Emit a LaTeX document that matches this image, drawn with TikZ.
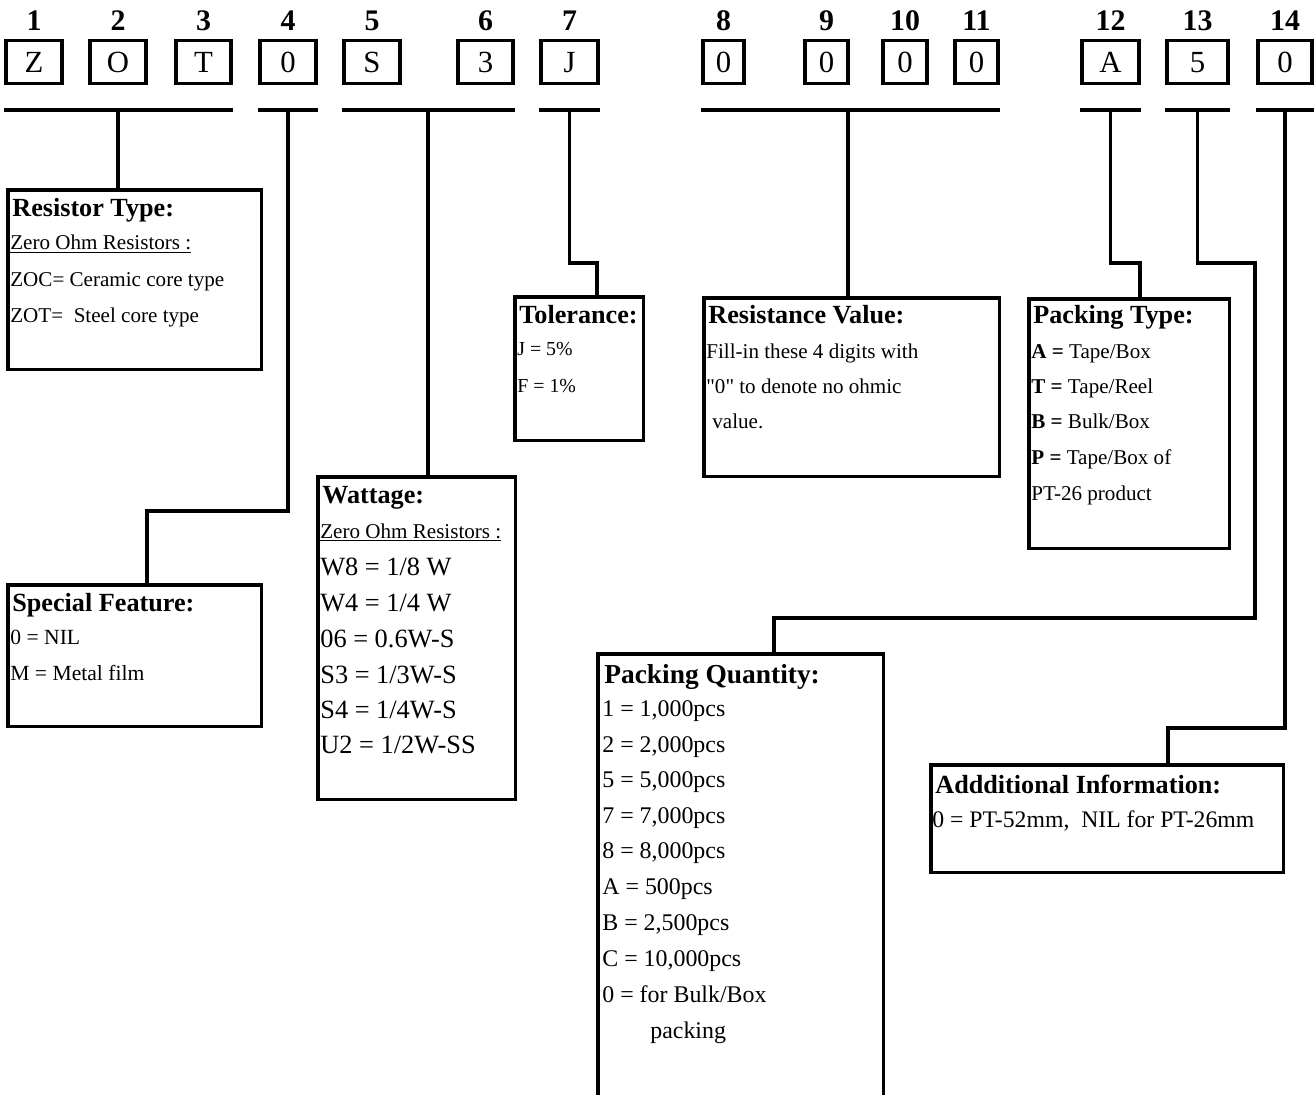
\documentclass[tikz,border=0pt]{standalone}
\usepackage{fontspec}
\setmainfont{Liberation Serif}

\tikzset{
  thickline/.style={line width=2pt},
  charbox/.style={draw, line width=1.8pt, inner sep=0pt, minimum height=0.86cm, text height=11.6pt, text depth=0pt, font=\fontsize{17.5}{20}\selectfont},
  digitlbl/.style={anchor=base, inner sep=0pt, font=\fontsize{17}{20}\selectfont\bfseries},
  infobox/.style={draw, line width=2pt, inner sep=0pt, anchor=north west},
  boxtitle/.style={anchor=base west, inner sep=0pt, font=\fontsize{14.9}{17}\selectfont\bfseries},
  boxline/.style={anchor=base west, inner sep=0pt, font=\fontsize{12}{14}\selectfont},
}

\begin{document}
\begin{tikzpicture}[x=0.02cm, y=-0.02cm]
    \useasboundingbox (0,0) rectangle (1316,1095);

    % Kod kutulari ve numaralari
    \foreach \n/\x/\w/\ch in {1/34/56/Z, 2/118/56/O, 3/203.5/55/T, 4/288/56/0, 5/372/56/S, 6/485.5/55/3, 7/569.5/57/J,
                              8/723.5/41/0, 9/826.5/43/0, 10/905/44/0, 11/976.5/43/0, 12/1110.5/57/A, 13/1197.5/61/5, 14/1285/54/0} {
        \node[charbox, minimum width=\w*0.02cm] (c\n) at (\x,62) {\ch};
        \node[digitlbl] (l\n) at (\x,31) {\n};
    }

    % Parantez cizgileri
    \coordinate (brk) at (0,110);
    \draw[thickline] (c1.west |- brk) -- (c3.east |- brk);
    \draw[thickline] (c4.west |- brk) -- (c4.east |- brk);
    \draw[thickline] (c5.west |- brk) -- (c6.east |- brk);
    \draw[thickline] (c7.west |- brk) -- (c7.east |- brk);
    \draw[thickline] (c8.west |- brk) -- (c11.east |- brk);
    \draw[thickline] (c12.west |- brk) -- (c12.east |- brk);
    \draw[thickline] (c13.west |- brk) -- (c13.east |- brk);
    \draw[thickline] (c14.west |- brk) -- (c14.east |- brk);

    % Aciklama kutulari
    \node[infobox, minimum width=5.08cm, minimum height=3.6cm] (rtype) at (6,188) {};
    \node[infobox, minimum width=5.08cm, minimum height=2.84cm] (spec) at (6,583) {};
    \node[infobox, minimum width=3.96cm, minimum height=6.46cm] (watt) at (316,475) {};
    \node[infobox, minimum width=2.58cm, minimum height=2.88cm] (tol) at (513,295) {};
    \node[infobox, minimum width=5.92cm, minimum height=3.58cm] (resv) at (702,296) {};
    \node[infobox, minimum width=4.02cm, minimum height=5.0cm] (ptype) at (1027,297) {};
    \node[inner sep=0pt, anchor=north west, minimum width=5.7cm, minimum height=8.82cm] (qty) at (598,654) {};
    \draw[thickline] (qty.south west) |- (qty.north east) -- (qty.south east);
    \node[infobox, minimum width=7.06cm, minimum height=2.16cm] (addi) at (929,763) {};

    % Baglanti cizgileri
    \coordinate (b56) at (428,110);
    \coordinate (b811) at (848,110);
    \coordinate (k4) at (147,511);
    \coordinate (k7) at (597,263);
    \coordinate (k12) at (1140,263);
    \coordinate (k13a) at (1255,263);
    \coordinate (k13b) at (774,618);
    \coordinate (k14) at (1168,728);
    \draw[thickline] (c2 |- brk) -- (c2 |- rtype.north);
    \draw[thickline] (c4 |- brk) |- (k4) -- (k4 |- spec.north);
    \draw[thickline] (b56) -- (b56 |- watt.north);
    \draw[thickline] (c7 |- brk) |- (k7) -- (k7 |- tol.north);
    \draw[thickline] (b811) -- (b811 |- resv.north);
    \draw[thickline] (c12 |- brk) |- (k12) -- (k12 |- ptype.north);
    \draw[thickline] (c13 |- brk) |- (k13a) |- (k13b) -- (k13b |- qty.north);
    \draw[thickline] (c14 |- brk) |- (k14) -- (k14 |- addi.north);

    % Resistor Type
    \node[boxtitle] (rtT) at (12,216) {Resistor Type:};
    \foreach \y/\t [count=\i] in {250/{\underline{Zero Ohm Resistors :}}, 286/{ZOC= Ceramic core type}, 322/{ZOT=\ \ Steel core type}}
        \node[boxline] (rt\i) at (10,\y) {\t};

    % Special Feature
    \node[boxtitle] (sfT) at (12,611) {Special Feature:};
    \foreach \y/\t [count=\i] in {644/{0 = NIL}, 680/{M = Metal film}}
        \node[boxline, font=\fontsize{12.3}{14}\selectfont] (sf\i) at (10,\y) {\t};

    % Wattage
    \node[boxtitle] (wtT) at (322,503) {Wattage:};
    \node[boxline] (wt0) at (320,538) {\underline{Zero Ohm Resistors :}};
    \foreach \y/\t [count=\i] in {575/{W8 = 1/8 W}, 611/{W4 = 1/4 W}, 647/{06 = 0.6W-S}, 683/{S3 = 1/3W-S}, 718/{S4 = 1/4W-S}, 753/{U2 = 1/2W-SS}}
        \node[boxline, font=\fontsize{15}{17}\selectfont] (wt\i) at (320,\y) {\t};

    % Tolerance
    \node[boxtitle] (tlT) at (519,323) {Tolerance:};
    \foreach \y/\t [count=\i] in {355/{J = 5\%}, 392/{F = 1\%}}
        \node[boxline, font=\fontsize{11.3}{13}\selectfont] (tl\i) at (517,\y) {\t};

    % Resistance Value
    \node[boxtitle] (rvT) at (708,323) {Resistance Value:};
    \node[boxline] (rv1) at (706,358) {Fill-in these 4 digits with};
    \node[boxline] (rv2) at (706,393) {\textquotedbl 0\textquotedbl\ to denote no ohmic};
    \node[boxline] (rv3) at (712,428) {value.};

    % Packing Type
    \node[boxtitle] (ptT) at (1033,323) {Packing Type:};
    \node[boxline] (pt1) at (1031,358) {\textbf{A =} Tape/Box};
    \node[boxline] (pt2) at (1031,393) {\textbf{T =} Tape/Reel};
    \node[boxline] (pt3) at (1031,428) {\textbf{B =} Bulk/Box};
    \node[boxline] (pt4) at (1031,464) {\textbf{P =} Tape/Box of};
    \node[boxline] (pt5) at (1031,500) {PT-26 product};

    % Packing Quantity
    \node[boxtitle, font=\fontsize{15.6}{18}\selectfont\bfseries] (pqT) at (604,683) {Packing Quantity:};
    \foreach \y/\t [count=\i] in {716/{1 = 1,000pcs}, 752/{2 = 2,000pcs}, 787/{5 = 5,000pcs}, 823/{7 = 7,000pcs}, 858/{8 = 8,000pcs},
                                  894/{A = 500pcs}, 930/{B = 2,500pcs}, 966/{C = 10,000pcs}, 1002/{0 = for Bulk/Box}}
        \node[boxline, font=\fontsize{13.6}{16}\selectfont] (pq\i) at (602,\y) {\t};
    \node[boxline, font=\fontsize{13.6}{16}\selectfont] (pq10) at (650,1038) {packing};

    % Additional Information
    \node[boxtitle] (aiT) at (935,793) {Addditional Information:};
    \node[boxline, font=\fontsize{13.5}{16}\selectfont] (ai1) at (932,827) {0 = PT-52mm,\ \ NIL for PT-26mm};
\end{tikzpicture}
\end{document}
